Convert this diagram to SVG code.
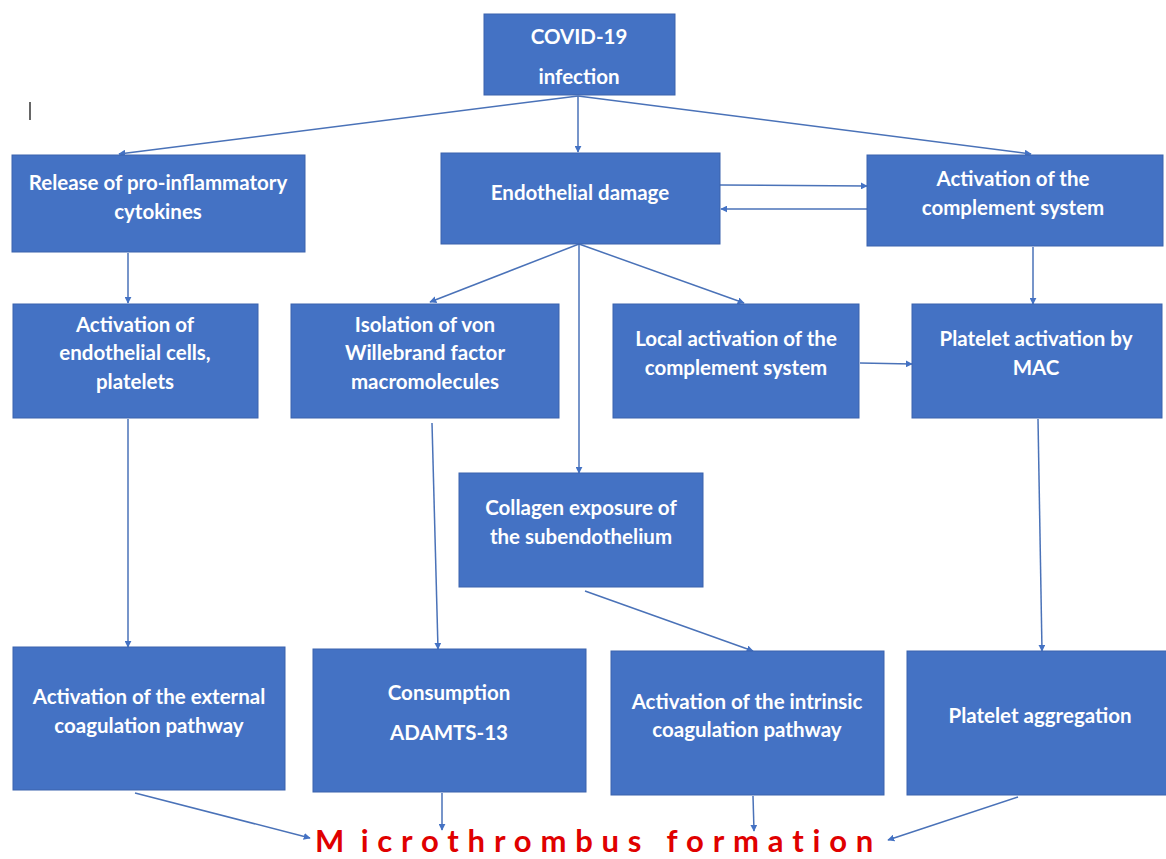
<svg xmlns="http://www.w3.org/2000/svg" width="1166" height="859" viewBox="0 0 1166 859">
<style>
.box{fill:#4472C4;stroke:#3A63AD;stroke-width:1}
.t{font-family:Lato,"Liberation Sans",sans-serif;font-weight:700;font-size:20.5px;fill:#FFFFFF;text-anchor:middle}
.c{fill:none;stroke:#4A72B8;stroke-width:1.5}
.red{font-family:Lato,"Liberation Sans",sans-serif;font-weight:700;font-size:31px;fill:#E00000;letter-spacing:8.8px}
</style>
<defs>
<marker id="ah" viewBox="0 0 10 10" refX="9" refY="5" markerWidth="7" markerHeight="7" markerUnits="userSpaceOnUse" orient="auto">
<path d="M0,0 L10,5 L0,10 z" fill="#4472C4"/>
</marker>
</defs>
<rect width="1166" height="859" fill="#FFFFFF"/>
<line x1="30" y1="102" x2="30" y2="120" stroke="#000000" stroke-width="1.2"/>
<g id="connectors">
<line class="c" x1="578" y1="96" x2="119" y2="154" marker-end="url(#ah)"/>
<line class="c" x1="578" y1="96" x2="578" y2="152" marker-end="url(#ah)"/>
<line class="c" x1="578" y1="96" x2="1031" y2="154" marker-end="url(#ah)"/>
<line class="c" x1="720" y1="185" x2="867" y2="186" marker-end="url(#ah)"/>
<line class="c" x1="867" y1="209" x2="721" y2="209" marker-end="url(#ah)"/>
<line class="c" x1="128" y1="253" x2="128" y2="303" marker-end="url(#ah)"/>
<line class="c" x1="579" y1="244" x2="430" y2="302" marker-end="url(#ah)"/>
<line class="c" x1="579" y1="244" x2="579" y2="473" marker-end="url(#ah)"/>
<line class="c" x1="579" y1="244" x2="744" y2="303" marker-end="url(#ah)"/>
<line class="c" x1="1033" y1="247" x2="1033" y2="304" marker-end="url(#ah)"/>
<line class="c" x1="860" y1="363" x2="912" y2="364" marker-end="url(#ah)"/>
<line class="c" x1="128" y1="419" x2="128" y2="647" marker-end="url(#ah)"/>
<line class="c" x1="432" y1="423" x2="438" y2="649" marker-end="url(#ah)"/>
<line class="c" x1="585" y1="591" x2="753" y2="651" marker-end="url(#ah)"/>
<line class="c" x1="1038" y1="419" x2="1042" y2="651" marker-end="url(#ah)"/>
<line class="c" x1="135" y1="793" x2="310" y2="838" marker-end="url(#ah)"/>
<line class="c" x1="442" y1="793" x2="442" y2="830" marker-end="url(#ah)"/>
<line class="c" x1="753" y1="796" x2="754" y2="831" marker-end="url(#ah)"/>
<line class="c" x1="1018" y1="797" x2="888" y2="840" marker-end="url(#ah)"/>
</g>
<g id="n_covid"><rect class="box" x="484" y="14" width="191" height="81"/><text class="t" x="579" y="44">COVID-19</text><text class="t" x="579" y="84">infection</text></g>
<g id="n_release"><rect class="box" x="12" y="155" width="293" height="97"/><text class="t" x="158" y="190">Release of pro-inflammatory</text><text class="t" x="158" y="219">cytokines</text></g>
<g id="n_endo"><rect class="box" x="441" y="153" width="279" height="91"/><text class="t" x="580" y="200">Endothelial damage</text></g>
<g id="n_compl"><rect class="box" x="867" y="155" width="296" height="91"/><text class="t" x="1013" y="186">Activation of the</text><text class="t" x="1013" y="215">complement system</text></g>
<g id="n_actendo"><rect class="box" x="13" y="304" width="245" height="114"/><text class="t" x="135" y="332">Activation of</text><text class="t" x="135" y="360">endothelial cells,</text><text class="t" x="135" y="389">platelets</text></g>
<g id="n_vwf"><rect class="box" x="291" y="304" width="268" height="114"/><text class="t" x="425" y="332">Isolation of von</text><text class="t" x="425" y="360">Willebrand factor</text><text class="t" x="425" y="389">macromolecules</text></g>
<g id="n_local"><rect class="box" x="613" y="304" width="246" height="114"/><text class="t" x="736" y="346">Local activation of the</text><text class="t" x="736" y="375">complement system</text></g>
<g id="n_mac"><rect class="box" x="912" y="304" width="250" height="114"/><text class="t" x="1036" y="346">Platelet activation by</text><text class="t" x="1036" y="375">MAC</text></g>
<g id="n_collagen"><rect class="box" x="459" y="473" width="244" height="114"/><text class="t" x="581" y="515">Collagen exposure of</text><text class="t" x="581" y="544">the subendothelium</text></g>
<g id="n_ext"><rect class="box" x="13" y="647" width="272" height="143"/><text class="t" x="149" y="704">Activation of the external</text><text class="t" x="149" y="733">coagulation pathway</text></g>
<g id="n_adamts"><rect class="box" x="313" y="649" width="273" height="143"/><text class="t" x="449" y="700">Consumption</text><text class="t" x="449" y="740">ADAMTS-13</text></g>
<g id="n_intr"><rect class="box" x="611" y="651" width="273" height="144"/><text class="t" x="747" y="709">Activation of the intrinsic</text><text class="t" x="747" y="737">coagulation pathway</text></g>
<g id="n_aggr"><rect class="box" x="907" y="651" width="260" height="144"/><text class="t" x="1040" y="723">Platelet aggregation</text></g>
<g id="n_micro"><text class="red" x="315" y="852">M<tspan style="letter-spacing:0"> </tspan>icrothrombus  formation</text></g>
</svg>
